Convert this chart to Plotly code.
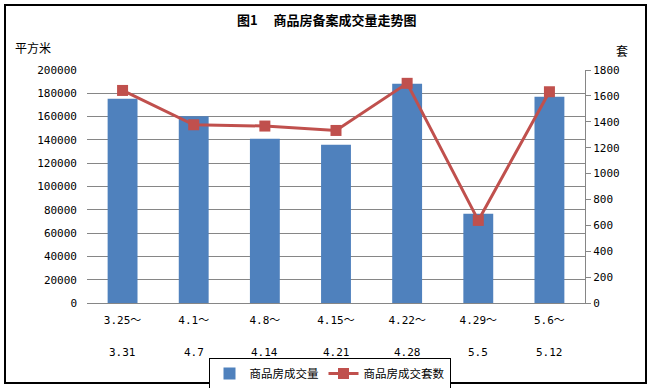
import plotly.graph_objects as go

period_start = ["3.25～", "4.1～", "4.8～", "4.15～", "4.22～", "4.29～", "5.6～"]
period_end = ["3.31", "4.7", "4.14", "4.21", "4.28", "5.5", "5.12"]
area_values = [175300, 160200, 141000, 135900, 188200, 76700, 177100]
unit_values = [1642, 1377, 1367, 1333, 1697, 638, 1632]

W, H = 655, 388
L, R, T, B = 87, 585, 70, 303
pw, ph = R - L, B - T

def px(x):
    return (x - L) / pw

def py(y):
    return (B - y) / ph

blue = "#4F81BD"
red = "#C0504D"
grid = "#868686"
mono = "DejaVu Sans Mono, Noto Sans CJK SC"
cjk = "Noto Sans CJK SC"

fig = go.Figure()
fig.add_trace(go.Bar(x=period_start, y=area_values, name="商品房成交量",
                     marker=dict(color=blue, line=dict(width=0)), yaxis="y"))
fig.add_trace(go.Scatter(x=period_start, y=unit_values, name="商品房成交套数", mode="lines+markers",
                         line=dict(color=red, width=3),
                         marker=dict(symbol="square", size=11, color=red), yaxis="y2"))

fig.update_layout(
    width=W, height=H,
    margin=dict(l=L, r=W - R, t=T, b=H - B, autoexpand=False),
    paper_bgcolor="white", plot_bgcolor="white",
    bargap=0.58,
    showlegend=True,
    legend=dict(orientation="h", x=px(329.5), xanchor="center", y=py(358), yanchor="top",
                bordercolor="black", borderwidth=1, font=dict(family=cjk, size=11.5, color="black"),
                itemwidth=30, tracegroupgap=0),
    xaxis=dict(type="category", showgrid=False, showline=True, linecolor=grid, linewidth=1,
               ticks="", ticklabelstandoff=7,
               tickfont=dict(family=mono, size=11, color="black"), tickangle=0),
    yaxis=dict(range=[0, 200000], dtick=20000, showgrid=True, gridcolor=grid, gridwidth=1,
               showline=False, zeroline=False, ticks="", ticklabelstandoff=9,
               tickfont=dict(family=mono, size=11, color="black"), tickformat="d"),
    yaxis2=dict(range=[0, 1800], dtick=200, overlaying="y", side="right", showgrid=False,
                showline=True, linecolor=grid, linewidth=1, ticks="outside", ticklen=5,
                tickcolor=grid, zeroline=False, tickfont=dict(family=mono, size=11, color="black")),
    font=dict(family=cjk, color="black"),
)

for cat, end in zip(period_start, period_end):
    fig.add_annotation(text=end, xref="x", yref="paper", x=cat, y=py(352),
                       xanchor="center", yanchor="middle", showarrow=False,
                       font=dict(family=mono, size=11, color="black"))

fig.add_annotation(text="<b>图1　 商品房备案成交量走势图</b>", xref="paper", yref="paper",
                   x=px(327), y=py(19), xanchor="center", yanchor="middle", showarrow=False,
                   font=dict(family=cjk, size=13, color="black"))
fig.add_annotation(text="平方米", xref="paper", yref="paper", x=px(13), y=py(47),
                   xanchor="left", yanchor="middle", showarrow=False,
                   font=dict(family=cjk, size=12, color="black"))
fig.add_annotation(text="套", xref="paper", yref="paper", x=px(622), y=py(50),
                   xanchor="center", yanchor="middle", showarrow=False,
                   font=dict(family=cjk, size=12, color="black"))

fig.add_shape(type="rect", xref="paper", yref="paper", x0=px(5), x1=px(646), y0=py(383), y1=py(5),
              line=dict(color="black", width=2), fillcolor="rgba(0,0,0,0)", layer="above")

fig.write_html("out.html", config={"displayModeBar": False},
               post_script="document.body.style.margin='0';document.body.style.overflow='hidden';")
